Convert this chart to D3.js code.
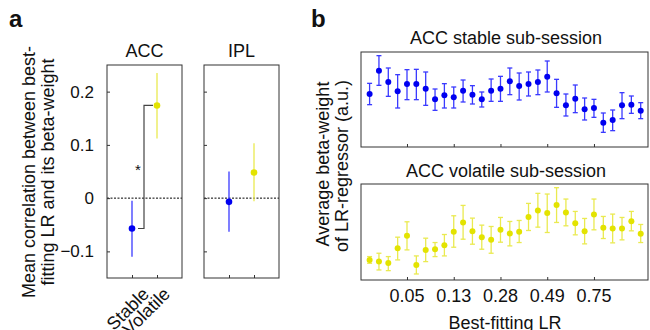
<!DOCTYPE html>
<html lang="en">
<head>
<meta charset="utf-8">
<title>Beta-weight by learning rate</title>
<script src="https://cdn.jsdelivr.net/npm/d3@7"></script>
<style>
  body { margin: 0; background: #fff; }
  text { font-family: "Liberation Sans", Arial, sans-serif; fill: #111; }
</style>
</head>
<body>
<script>
// ---- panel a data ----
var regions = ["ACC", "IPL"];
var conditions = ["Stable", "Volatile"];
var corrMean = [[-0.057, 0.174], [-0.007, 0.048]];
var corrLo = [[-0.110, 0.112], [-0.063, -0.006]];
var corrHi = [[-0.005, 0.235], [0.050, 0.103]];
var corrTicks = [-0.1, 0, 0.1, 0.2];

// ---- panel b data (30 learning-rate bins, arbitrary units) ----
var lrTickIndex = [5, 10, 15, 20, 25];
var lrTickLabels = ["0.05", "0.13", "0.28", "0.49", "0.75"];
var stableMean = [1.59, 2.29, 1.95, 1.67, 1.89, 1.89, 1.75, 1.43, 1.55, 1.49,
                  1.69, 1.57, 1.43, 1.69, 1.75, 1.97, 1.83, 1.89, 1.95, 2.11,
                  1.61, 1.25, 1.45, 1.13, 1.17, 0.73, 0.81, 1.25, 1.27, 1.09];
var stableHi = [1.91, 2.74, 2.37, 2.17, 2.32, 2.33, 2.25, 1.74, 1.90, 1.80,
                2.01, 1.84, 1.65, 2.04, 2.12, 2.37, 2.22, 2.25, 2.31, 2.58,
                2.03, 1.59, 1.86, 1.47, 1.43, 1.02, 1.11, 1.63, 1.53, 1.33];
var stableLo = [1.27, 1.85, 1.52, 1.17, 1.42, 1.42, 1.25, 1.10, 1.17, 1.17,
                1.35, 1.29, 1.20, 1.37, 1.37, 1.57, 1.41, 1.53, 1.57, 1.65,
                1.19, 0.93, 1.03, 0.81, 0.89, 0.44, 0.49, 0.85, 1.01, 0.85];
var volatileMean = [0.60, 0.55, 0.51, 0.95, 1.32, 0.45, 0.90, 0.92, 1.04, 1.44,
                    1.72, 1.46, 1.28, 1.20, 1.50, 1.39, 1.44, 1.88, 2.08, 2.00,
                    2.24, 2.02, 1.70, 1.46, 1.96, 1.56, 1.54, 1.54, 1.76, 1.38];
var volatileHi = [0.70, 0.80, 0.70, 1.28, 1.74, 0.72, 1.25, 1.12, 1.36, 1.92,
                  2.23, 1.85, 1.64, 1.60, 1.87, 1.75, 1.78, 2.29, 2.59, 2.57,
                  2.76, 2.42, 2.05, 1.84, 2.42, 1.90, 1.97, 1.87, 2.05, 1.66];
var volatileLo = [0.50, 0.30, 0.28, 0.60, 0.90, 0.18, 0.55, 0.70, 0.72, 0.98,
                  1.22, 1.07, 0.92, 0.80, 1.13, 1.02, 1.12, 1.48, 1.58, 1.42,
                  1.72, 1.62, 1.35, 1.08, 1.50, 1.24, 1.11, 1.20, 1.47, 1.12];

var blue = "#0000f0", blueBar = "#3a3aff";
var yellow = "#e3e300", yellowBar = "#eaea50";
var frame = "#333";
var fs = 18;

var svg = d3.select("body").append("svg")
    .attr("width", 650).attr("height", 330);

// panel letters
svg.append("text").attr("x", 9).attr("y", 27).text("a")
    .attr("font-size", 24).attr("font-weight", "bold");
svg.append("text").attr("x", 311).attr("y", 27).text("b")
    .attr("font-size", 24).attr("font-weight", "bold");

// ---------- panel a ----------
var aTop = 65, aBottom = 278, aW = 75;
var aLeft = [107, 204];
var yA = d3.scaleLinear().domain([-0.15, 0.25]).range([aBottom, aTop]);
var xA = d3.scaleLinear().domain([0, 3]).range([0, aW]);

regions.forEach(function(r, ri) {
    var g = svg.append("g").attr("transform", "translate(" + aLeft[ri] + ",0)");

    g.append("text").attr("x", aW / 2).attr("y", 57)
        .attr("text-anchor", "middle").attr("font-size", fs).text(r);

    // zero line
    g.append("line").attr("x1", 0).attr("x2", aW)
        .attr("y1", yA(0)).attr("y2", yA(0))
        .attr("stroke", "#000").attr("stroke-dasharray", "2,1.5").attr("stroke-width", 1);

    // inward ticks
    var yAx = d3.axisRight(yA).tickValues(corrTicks).tickSize(3).tickFormat("");
    g.append("g").call(yAx).call(function(s) { s.select(".domain").remove(); })
        .selectAll("line").attr("stroke", frame);
    var xAx = d3.axisTop(xA).tickValues([1, 2]).tickSize(3).tickFormat("");
    g.append("g").attr("transform", "translate(0," + aBottom + ")").call(xAx)
        .call(function(s) { s.select(".domain").remove(); })
        .selectAll("line").attr("stroke", frame);

    if (ri === 0) {
        var yLab = d3.axisLeft(yA).tickValues(corrTicks).tickSize(0)
            .tickFormat(function(d) { return d === 0 ? "0" : d3.format(".1f")(d).replace("-", "\u2212"); });
        g.append("g").attr("transform", "translate(-10,0)").call(yLab)
            .call(function(s) { s.select(".domain").remove(); })
            .selectAll("text").attr("font-size", 17)
            .attr("font-family", "Liberation Sans, Arial, sans-serif").attr("fill", "#111");

        conditions.forEach(function(c, ci) {
            var px = xA(ci + 1) + (ci === 0 ? 9 : 5), py = 286;
            g.append("text").attr("transform", "translate(" + px + "," + py + ") rotate(-45)")
                .attr("text-anchor", "end").attr("dy", "0.72em").attr("font-size", fs).text(c);
        });

        // significance bracket
        var bx = xA(1.5) - 0.5;
        g.append("path")
            .attr("d", "M" + (xA(1) + 6) + "," + yA(corrMean[0][0]) +
                       "H" + bx + "V" + yA(corrMean[0][1]) + "H" + (xA(2) - 4))
            .attr("fill", "none").attr("stroke", "#444").attr("stroke-width", 1.2);
        g.append("text").attr("x", xA(1.24)).attr("y", 175)
            .attr("text-anchor", "middle").attr("font-size", 15).text("*");
    }

    conditions.forEach(function(c, ci) {
        var col = ci === 0 ? blue : yellow;
        var bcol = ci === 0 ? blueBar : yellowBar;
        g.append("line").attr("x1", xA(ci + 1)).attr("x2", xA(ci + 1))
            .attr("y1", yA(corrLo[ri][ci])).attr("y2", yA(corrHi[ri][ci]))
            .attr("stroke", bcol).attr("stroke-width", 1.3);
        g.append("circle").attr("cx", xA(ci + 1)).attr("cy", yA(corrMean[ri][ci]))
            .attr("r", 3.3).attr("fill", col);
    });

    g.append("rect").attr("x", 0).attr("y", aTop).attr("width", aW).attr("height", aBottom - aTop)
        .attr("fill", "none").attr("stroke", frame).attr("stroke-width", 1);
});

// y label panel a
svg.append("text").attr("transform", "translate(35,172) rotate(-90)")
    .attr("text-anchor", "middle").attr("font-size", fs).text("Mean correlation between best-");
svg.append("text").attr("transform", "translate(54,172) rotate(-90)")
    .attr("text-anchor", "middle").attr("font-size", fs).text("fitting LR and its beta-weight");

// ---------- panel b ----------
var bLeft = 361, bRight = 648;
var xB = d3.scaleLinear().domain([0.08, 30.78]).range([bLeft, bRight]);
var panels = [
    { title: "ACC stable sub-session", top: 52, bottom: 147, mean: stableMean, lo: stableLo, hi: stableHi,
      col: blue, bcol: blueBar, dom: [0, 2.85], ty: 44 },
    { title: "ACC volatile sub-session", top: 184, bottom: 280, mean: volatileMean, lo: volatileLo, hi: volatileHi,
      col: yellow, bcol: yellowBar, dom: [0, 2.87], ty: 177 }
];
var idx = d3.range(1, 31);

panels.forEach(function(p, pi) {
    var y = d3.scaleLinear().domain(p.dom).range([p.bottom, p.top]);
    var g = svg.append("g");

    g.append("text").attr("x", 506).attr("y", p.ty)
        .attr("text-anchor", "middle").attr("font-size", fs).text(p.title);

    var xAx = d3.axisTop(xB).tickValues(lrTickIndex).tickSize(3).tickFormat("");
    g.append("g").attr("transform", "translate(0," + p.bottom + ")").call(xAx)
        .call(function(s) { s.select(".domain").remove(); })
        .selectAll("line").attr("stroke", frame);

    if (pi === 1) {
        g.selectAll(".lrlab").data(lrTickIndex).enter().append("text")
            .attr("x", function(d) { return xB(d); })
            .attr("y", 302)
            .attr("text-anchor", "middle").attr("font-size", fs)
            .text(function(d, i) { return lrTickLabels[i]; });
    }

    var bars = g.selectAll(".eb").data(idx).enter().append("g")
        .attr("stroke", p.bcol).attr("stroke-width", 1.3);
    bars.append("line")
        .attr("x1", function(d) { return xB(d); }).attr("x2", function(d) { return xB(d); })
        .attr("y1", function(d, i) { return y(p.lo[i]); })
        .attr("y2", function(d, i) { return y(p.hi[i]); });
    bars.append("line")
        .attr("x1", function(d) { return xB(d) - 2.5; }).attr("x2", function(d) { return xB(d) + 2.5; })
        .attr("y1", function(d, i) { return y(p.lo[i]); })
        .attr("y2", function(d, i) { return y(p.lo[i]); });
    bars.append("line")
        .attr("x1", function(d) { return xB(d) - 2.5; }).attr("x2", function(d) { return xB(d) + 2.5; })
        .attr("y1", function(d, i) { return y(p.hi[i]); })
        .attr("y2", function(d, i) { return y(p.hi[i]); });

    g.selectAll("circle").data(idx).enter().append("circle")
        .attr("cx", function(d) { return xB(d); })
        .attr("cy", function(d, i) { return y(p.mean[i]); })
        .attr("r", 3).attr("fill", p.col);

    g.append("rect").attr("x", bLeft).attr("y", p.top)
        .attr("width", bRight - bLeft).attr("height", p.bottom - p.top)
        .attr("fill", "none").attr("stroke", frame).attr("stroke-width", 1);
});

svg.append("text").attr("transform", "translate(329,164) rotate(-90)")
    .attr("text-anchor", "middle").attr("font-size", fs).text("Average beta-weight");
svg.append("text").attr("transform", "translate(348,166) rotate(-90)")
    .attr("text-anchor", "middle").attr("font-size", fs).text("of LR-regressor (a.u.)");

svg.append("text").attr("x", 505).attr("y", 329)
    .attr("text-anchor", "middle").attr("font-size", fs).text("Best-fitting LR");
</script>
</body>
</html>
